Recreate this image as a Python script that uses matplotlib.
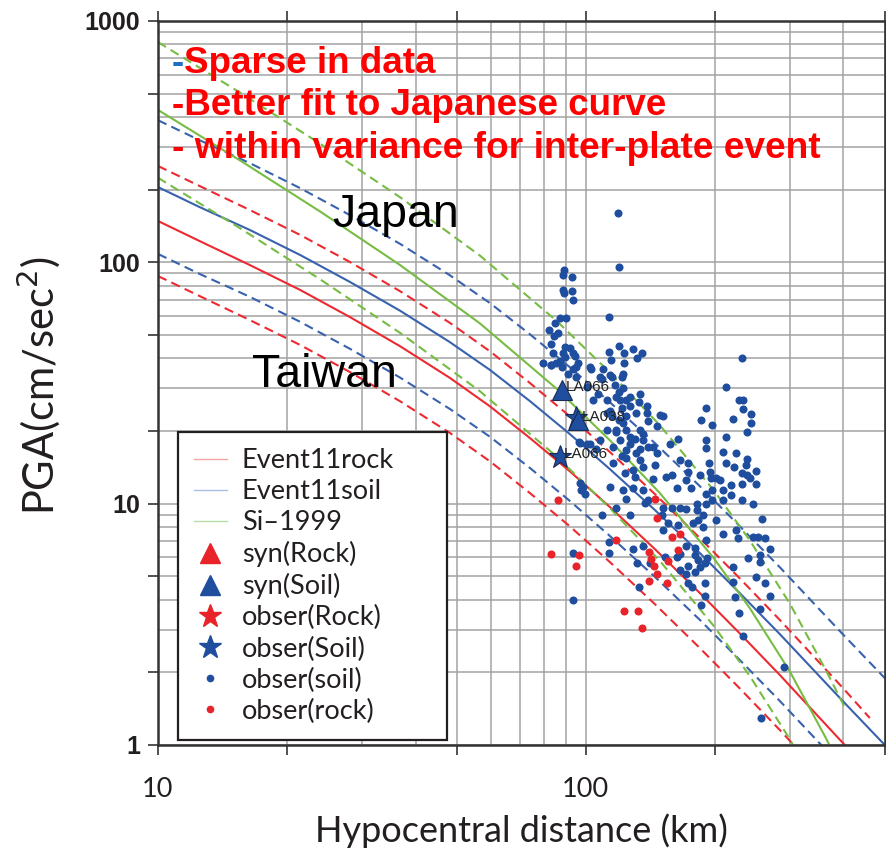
import matplotlib
matplotlib.use("Agg")
import matplotlib.pyplot as plt
from matplotlib.lines import Line2D
from matplotlib.ticker import FixedLocator, FixedFormatter
import numpy as np

# median attenuation curves: hypocentral distance (km) and PGA (cm/s^2)
rock_dist = [10, 12.5, 16.4, 21.5, 28.1, 36.8, 48.1, 59.7, 74.0, 91.8, 113.8,
             145.0, 184.7, 228.9, 284.0, 398.6, 460.9]
rock_pga = [148.3, 122.6, 97.4, 76.8, 59.3, 44.9, 33.2, 25.3, 18.7, 13.6, 9.68,
            6.48, 4.26, 2.90, 1.95, 1.02, 0.765]
soil_dist = [10, 12.5, 16.4, 21.5, 28.1, 36.8, 48.1, 59.7, 74.0, 91.8, 113.8,
             145.0, 184.7, 228.9, 284.0, 398.6, 499.6, 520]
soil_pga = [205, 169.5, 136.1, 107.2, 82.9, 63.0, 46.7, 35.8, 26.6, 19.4, 13.9,
            9.41, 6.24, 4.26, 2.88, 1.52, 1.0, 0.96]
si_dist = [10, 15.55, 23.9, 36.8, 56.5, 85.6, 113.8, 148.9, 199, 241.6, 299.6,
           363.7, 402.8]
si_pga = [428, 264.4, 162.6, 97.4, 55.9, 29.85, 18.3, 11.06, 5.95, 3.69, 2.02,
          1.07, 0.75]

# one standard deviation (log10 units) of each relation
rock_sigma = 0.228
soil_sigma = 0.277
si_sigma = 0.281

# observed PGA at soil stations
obs_soil_dist = [118.7, 119.8, 88.9, 88.6, 92.9, 88.4, 88.9, 92.9, 93.2, 113.3,
                 87.0, 90.0, 84.6, 82.1, 86.1, 84.2, 82.7, 89.2, 91.8, 88.2,
                 93.2, 94.3, 83.9, 85.0, 82.7, 87.0, 89.3, 94.8, 91.0, 94.6,
                 102.8, 113.5, 119.6, 114.4, 122.6, 122.6, 128.7, 135.4, 131.8, 121.9,
                 121.4, 113.8, 107.8, 119.6, 117.5, 120.1, 124.4, 133.2, 126.7, 121.4,
                 113.8, 114.8, 124.4, 119.6, 131.3, 138.6, 148.9, 151.5, 139.8, 146.3,
                 133.7, 130.2, 124.4, 117.7, 111.9, 120.1, 126.7, 135.8, 164.6, 157.2,
                 191.2, 186.2, 197.6, 191.2, 213, 212.3, 220.3, 228.1, 232.6, 232.6,
                 243.5, 243.5, 237.6, 231.5, 102.2, 107.8, 96.8, 190.5, 209.2, 224.7,
                 193.8, 212.3, 221.7, 237.6, 236.4, 250.4, 194.9, 231.2, 237.6, 241.6,
                 201.9, 124.4, 133.7, 139.8, 146.3, 124.4, 133.7, 115.8, 128.7, 135.8,
                 145, 165.8, 173, 250.4, 231.2, 218.8, 205.6, 184.7, 173, 171.6,
                 159.3, 153.6, 143.7, 130.2, 123.3, 113.8, 96.8, 98.6, 99.5, 122.2,
                 128.7, 135.8, 139.8, 163.5, 176.5, 191.2, 197.2, 209.2, 218.8, 231.2,
                 245.5, 181.7, 191.2, 197.2, 209.2, 124.4, 137.4, 151.7, 159.3, 165.8,
                 171.6, 181.7, 188, 183, 178.3, 188, 117.7, 108.8, 126.7, 150.3,
                 155.8, 164.6, 201.9, 209.2, 224.7, 226.6, 245.5, 252.7, 262.8, 257.8,
                 269, 239.6, 254.9, 254.9, 250.4, 261.9, 269.9, 220.4, 220.4, 222.9,
                 254.9, 228.1, 232.6, 290, 256.6, 151.7, 171.6, 179.7, 191.2, 179.7,
                 183, 192.4, 189.7, 184.7, 163.5, 165.8, 173, 179.7, 171.6, 165.8,
                 173, 177.3, 189.7, 189.7, 186.2, 153, 135.8, 128.7, 131.5, 141.1,
                 113.5, 113.5, 93.3, 93.2, 133, 195.6, 97.6, 96.3, 102.2, 109.8,
                 108.8, 114.8, 117, 122.2, 126.7, 133.7, 138.6, 122.2, 117.7, 126.7,
                 135.8, 143.7, 131.3, 121.6, 104.1, 106.6, 100.5, 111.9, 111.9, 100.5,
                 105.6, 115.8, 83.1, 79.5, 88.1, 93.3, 95.8]
obs_soil_pga = [160, 95.6, 92.5, 88.5, 87, 76.8, 74.6, 76.0, 69.5, 59.5,
                58.8, 58.8, 56, 52.4, 51, 49.5, 46, 44.5, 44, 42,
                42, 41, 42, 38.1, 37.5, 38.9, 40.7, 37, 34.5, 33.4,
                36.0, 42.6, 44.9, 39.4, 42, 38.3, 43.8, 42, 40, 34.6,
                33.5, 34.1, 33.5, 29.1, 27.7, 26.9, 26.9, 26.3, 25.3, 24.8,
                24.1, 23, 23, 22.2, 23.7, 23.7, 23.2, 23, 21.9, 20.9,
                20.2, 18.6, 20.2, 20.2, 20.2, 18.3, 17.7, 18.3, 18.6, 17.7,
                24.8, 22.2, 21.1, 18.3, 30.5, 18.8, 22.4, 27, 26.9, 24.7,
                23.6, 21.6, 19.8, 40.1, 17.7, 18.3, 17.8, 17.0, 16.3, 16.2,
                14.7, 14.7, 14.2, 15.3, 14.5, 13.7, 13.5, 13.4, 13.1, 12.8,
                12.8, 16.7, 16.9, 17.2, 16.2, 15.5, 15.2, 14.7, 13.8, 14.2,
                14.5, 15.2, 14.7, 12.1, 12.1, 11.9, 12.5, 13.1, 13.5, 12.5,
                13.1, 12.9, 12.7, 12.9, 13.4, 11.7, 12.2, 11.7, 11, 11.4,
                11.6, 11.4, 10.35, 11.6, 11.6, 11.0, 11.4, 11.4, 10.9, 10.35,
                10, 10, 10, 10.35, 10.35, 10.5, 10.1, 9.6, 9.6, 9.6,
                9.5, 9.4, 8.97, 8.55, 8.3, 8.0, 9.6, 9.0, 9.0, 8.97,
                8.3, 8.15, 8.55, 7.5, 7.8, 7.2, 7.3, 7.3, 7.2, 8.6,
                6.5, 5.95, 6.12, 5.73, 4.96, 4.69, 4.14, 5.46, 4.73, 4.10,
                3.67, 3.52, 2.83, 2.10, 1.29, 7.77, 6.67, 6.55, 7.07, 6.12,
                5.84, 5.95, 5.67, 5.46, 6.0, 6.2, 5.51, 5.2, 5.1, 5.31,
                4.69, 4.51, 4.69, 4.16, 3.8, 6.0, 6.7, 6.5, 5.7, 5.7,
                6.93, 6.24, 6.24, 4.0, 4.5, 12.8, 11.4, 18, 37, 36,
                32.7, 33.5, 31, 30, 27.7, 28.5, 25.3, 21.6, 19.9, 18.9,
                19.5, 17.2, 16.2, 15.7, 26.9, 28.5, 30.4, 26.9, 23.7, 17.7,
                16.9, 17.2, 37.5, 38.1, 37, 36, 38.1]

# observed PGA at rock stations
obs_rock_dist = [82.8, 96.3, 94.8, 85.9, 145, 146.3, 158.9, 165.8, 164.6, 156,
                 140.7, 142, 144.6, 146.6, 140.7, 155, 117.4, 122.8, 132.2, 135.1]
obs_rock_pga = [6.2, 6.1, 5.5, 10.35, 10.5, 8.7, 7.3, 7.5, 6.4, 5.8,
                6.3, 5.9, 5.5, 5.1, 4.8, 4.7, 7.1, 3.6, 3.6, 3.05]

# synthetic and observed values at the modelled stations
syn_names = ["LA066", "LA038"]
syn_dist = [87.9, 95.7]
syn_pga = [29.6, 22.2]
star_names = ["LA066", ""]
star_dist = [86.9, 95.0]
star_pga = [15.6, 22.6]

RED = "#ec2a30"
BLUE = "#3862ae"
GREEN = "#77bc43"
DOT_BLUE = "#1f4e9e"
DOT_RED = "#e8232a"

fig = plt.figure(figsize=(8.86, 8.56), dpi=100)
ax = fig.add_axes([0.1783, 0.1297, 0.8205, 0.8458])
ax.set_xscale("log")
ax.set_yscale("log")
ax.set_xlim(10, 500)
ax.set_ylim(1, 1000)

dash = (0, (4.5, 2.6))
for dist, pga, sig, col in [(rock_dist, rock_pga, rock_sigma, RED),
                            (soil_dist, soil_pga, soil_sigma, BLUE),
                            (si_dist, si_pga, si_sigma, GREEN)]:
    pga = np.array(pga)
    ax.plot(dist, pga, color=col, lw=1.5, zorder=2)
    ax.plot(dist, pga * 10 ** sig, color=col, lw=1.5, ls=dash, zorder=2)
    ax.plot(dist, pga / 10 ** sig, color=col, lw=1.5, ls=dash, zorder=2)

ax.plot(obs_soil_dist, obs_soil_pga, ls="none", marker="o", ms=5.8, mew=0,
        color=DOT_BLUE, zorder=3)
ax.plot(obs_rock_dist, obs_rock_pga, ls="none", marker="o", ms=5.8, mew=0,
        color=DOT_RED, zorder=3)

ax.plot(star_dist, star_pga, ls="none", marker="*", ms=17, mfc=DOT_BLUE,
        mec="#1a2a55", mew=0.8, zorder=4)
ax.plot(syn_dist, syn_pga, ls="none", marker="^", ms=15, mfc=DOT_BLUE,
        mec="#1a2a55", mew=0.8, zorder=4)
for name, d, p in zip(star_names + syn_names, star_dist + syn_dist, star_pga + syn_pga):
    if name:
        ax.annotate(name, (d, p), xytext=(3, 2), textcoords="offset points",
                    fontsize=11, family="Liberation Sans", color="#222222",
                    va="center", ha="left", zorder=5)

# ticks at 1-2-5 steps, labels on decades only, grid on every integer step
major = [1, 2, 5, 10, 20, 50, 100, 200, 500, 1000]
minor = [k * 10 ** e for e in range(0, 3) for k in range(1, 10)]
ax.xaxis.set_major_locator(FixedLocator(major))
ax.yaxis.set_major_locator(FixedLocator(major))
ax.xaxis.set_minor_locator(FixedLocator(minor))
ax.yaxis.set_minor_locator(FixedLocator(minor))
dec_labels = [str(v) if v in (1, 10, 100, 1000) else "" for v in major]
ax.xaxis.set_major_formatter(FixedFormatter(dec_labels))
ax.yaxis.set_major_formatter(FixedFormatter(dec_labels))
ax.tick_params(which="major", direction="out", length=7, width=1.2,
               color="#333333", top=True, right=True)
ax.tick_params(which="minor", length=0)
ax.tick_params(axis="x", pad=16, labelsize=19.5)
ax.tick_params(axis="y", pad=6, labelsize=18)
for lab in ax.get_xticklabels():
    lab.set_family("Lato")
    lab.set_color("#231f20")
for lab in ax.get_yticklabels():
    lab.set_family("Liberation Sans")
    lab.set_weight("bold")
    lab.set_color("#231f20")

ax.set_axisbelow(True)
ax.grid(True, which="both", color="#a3a3a3", lw=1.1)
for sp in ax.spines.values():
    sp.set_color("#333333")
    sp.set_linewidth(1.8)

fig.text(0.589, 0.016, "Hypocentral distance (km)", ha="center", va="baseline",
         fontsize=26, family="Lato", color="#231f20")
fig.text(0.044, 0.55, "PGA(cm/sec$^2$)", ha="center", va="center", rotation=90,
         fontsize=30, family="Lato", color="#231f20")

handles = [
    Line2D([], [], color="#f4a6a6", lw=1.0),
    Line2D([], [], color="#aabde6", lw=1.0),
    Line2D([], [], color="#b7e0a4", lw=1.0),
    Line2D([], [], ls="none", marker="^", ms=15, color=DOT_RED),
    Line2D([], [], ls="none", marker="^", ms=15, color=DOT_BLUE),
    Line2D([], [], ls="none", marker="*", ms=17, color=DOT_RED),
    Line2D([], [], ls="none", marker="*", ms=17, color=DOT_BLUE),
    Line2D([], [], ls="none", marker="o", ms=4.5, color=DOT_BLUE),
    Line2D([], [], ls="none", marker="o", ms=4.5, color=DOT_RED),
]
labels = ["Event11rock", "Event11soil", "Si\u20131999", "syn(Rock)", "syn(Soil)",
          "obser(Rock)", "obser(Soil)", "obser(soil)", "obser(rock)"]
leg = ax.legend(handles, labels, loc="lower left", mode="expand",
                bbox_to_anchor=(0.0275, 0.007, 0.37, 0.4), borderaxespad=0,
                prop={"family": "Lato", "size": 19.5}, fancybox=False,
                framealpha=1, edgecolor="#231f20", borderpad=0.6,
                labelspacing=0.22, handlelength=1.2, handletextpad=0.55)
leg.get_frame().set_linewidth(1.6)
for t in leg.get_texts():
    t.set_color("#231f20")

# remarks over the upper part of the plot
fig.text(0.1941, 0.9147, "-", color="#1f6fc4", fontsize=26.5,
         family="Liberation Sans", weight="bold", va="baseline")
fig.text(0.2080, 0.9147, "Sparse in data", color="#ff0000", fontsize=26.5,
         family="Liberation Sans", weight="bold", va="baseline")
fig.text(0.1941, 0.8657, "-Better fit to Japanese curve", color="#ff0000",
         fontsize=26.5, family="Liberation Sans", weight="bold", va="baseline")
fig.text(0.1941, 0.8150, "- within variance for inter-plate event", color="#ff0000",
         fontsize=26.7, family="Liberation Sans", weight="bold", va="baseline")

fig.text(0.3745, 1 - 226.7 / 856, "Japan", fontsize=33.5, family="Liberation Sans",
         color="black", va="baseline")
fig.text(0.2841, 1 - 386.7 / 856, "Taiwan", fontsize=33.5, family="Liberation Sans",
         color="black", va="baseline")

fig.savefig("out.png", dpi=100)
